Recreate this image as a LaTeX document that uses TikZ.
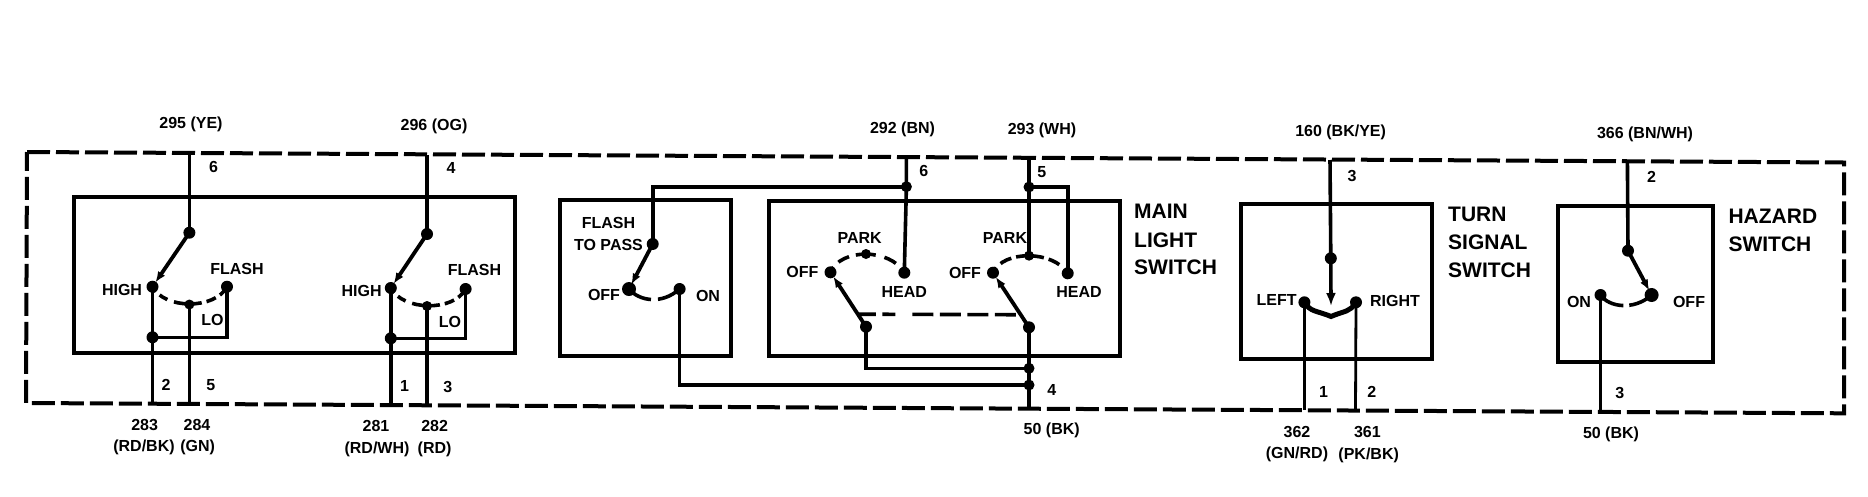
\documentclass[tikz,border=0pt]{standalone}
\usepackage{fontspec}
\setmainfont{Liberation Sans}
\usetikzlibrary{arrows.meta}
\tikzset{
  dot/.style={circle,fill=black,inner sep=0pt,minimum size=12pt},
  wire/.style={line width=3.6pt,line cap=butt,line join=miter},
  thinwire/.style={line width=2.8pt},
  boxline/.style={line width=4pt,line join=miter},
  frame/.style={line width=4pt,dash pattern=on 23pt off 6pt},
  arm/.style={line width=3.8pt,-{Latex[length=11pt,width=8.5pt]},shorten >=5pt},
  sweep/.style={line width=3.6pt},
  lab/.style={inner sep=0pt,font=\bfseries\fontsize{16}{18}\selectfont},
  big/.style={inner sep=0pt,anchor=west,font=\bfseries\fontsize{21}{24}\selectfont},
}
\begin{document}
\begin{tikzpicture}[x=1pt,y=-1pt]
\useasboundingbox (0,0) rectangle (1868,496);
% frame
\coordinate (fTL) at (27,152);
\coordinate (fTR) at (1844,162.5);
\coordinate (fBR) at (1844,413.3);
\coordinate (fBL) at (26,403);
\draw[frame] (fTL) -- (fTR) -- (fBR) -- (fBL) -- cycle;
% boxes
\node[draw,boxline,inner sep=0pt,minimum width=441pt,minimum height=155.5pt] (boxDim) at (294.5,275) {};
\node[draw,boxline,inner sep=0pt,minimum width=171pt,minimum height=156pt] (boxFlash) at (645,278) {};
\node[draw,boxline,inner sep=0pt,minimum width=351.5pt,minimum height=155.5pt] (boxMain) at (944.3,278.3) {};
\node[draw,boxline,inner sep=0pt,minimum width=190.7pt,minimum height=155.3pt] (boxTurn) at (1336.7,281.7) {};
\node[draw,boxline,inner sep=0pt,minimum width=154.6pt,minimum height=155.7pt] (boxHaz) at (1635.3,283.8) {};
% dimmer switch 1
\coordinate (t1) at (189.4,153);
\coordinate (b283) at (152.5,403.5);
\coordinate (b284) at (189.4,403.8);
\node[dot] (p1) at (189.4,232.7) {};
\node[dot] (hi1) at (152.5,286.7) {};
\node[dot] (fl1) at (227,286.7) {};
\node[dot,minimum size=10pt] (lo1) at (189.4,304.5) {};
\node[dot] (j1) at (152.5,337.3) {};
\draw[wire] (t1) -- (p1.center);
\draw[arm] (p1.center) -- (hi1.center);
\draw[wire] (hi1.center) -- (b283);
\draw[wire] (lo1.center) -- (b284);
\draw[wire] (j1.center) -| (fl1.center);
\draw[sweep,dash pattern=on 6pt off 5pt on 9pt off 7pt on 28pt off 5pt on 10pt off 5pt on 8pt off 80pt] (hi1.center) .. controls +(12,23) and +(-12,23) .. (fl1.center);
% dimmer switch 2
\coordinate (t2) at (427,155);
\coordinate (b281) at (390.8,405);
\coordinate (b282) at (427,405.2);
\node[dot] (p2) at (427,234) {};
\node[dot] (hi2) at (390.8,288) {};
\node[dot] (fl2) at (465.6,289) {};
\node[dot,minimum size=10pt] (lo2) at (427,306) {};
\node[dot] (j2) at (390.8,338.3) {};
\draw[wire] (t2) -- (p2.center);
\draw[arm] (p2.center) -- (hi2.center);
\draw[wire] (hi2.center) -- (b281);
\draw[wire] (lo2.center) -- (b282);
\draw[wire] (j2.center) -| (fl2.center);
\draw[sweep,dash pattern=on 6pt off 5pt on 9pt off 7pt on 28pt off 5pt on 10pt off 5pt on 8pt off 80pt] (hi2.center) .. controls +(12,23) and +(-12,23) .. (fl2.center);
% flash to pass
\node[dot] (ftp) at (652.7,244) {};
\node[dot,minimum size=14pt] (foff) at (629,289) {};
\node[dot] (fon) at (679.6,289) {};
\draw[arm] (ftp.center) -- (foff.center);
\draw[sweep,dash pattern=on 25pt off 7pt on 40pt] (foff.center) .. controls +(10,12) and +(-18,16) .. (fon.center);
% main light switch
\coordinate (t292) at (906.4,158);
\coordinate (t293) at (1029,159);
\coordinate (b50) at (1029,409.3);
\node[dot,minimum size=11pt] (j292) at (906.4,186.7) {};
\node[dot,minimum size=11pt] (j293) at (1029,187) {};
\node[dot] (head1) at (904.3,272.7) {};
\node[dot] (off1) at (830.5,272.3) {};
\node[dot,minimum size=10pt] (park1) at (866,254) {};
\node[dot] (low1) at (866,326.7) {};
\node[dot] (head2) at (1067.7,273.3) {};
\node[dot] (off2) at (993,272.7) {};
\node[dot,minimum size=10pt] (park2) at (1029,255.7) {};
\node[dot] (low2) at (1029,327.3) {};
\node[dot,minimum size=11pt] (j3) at (1029,368.3) {};
\node[dot,minimum size=11pt] (j4) at (1029,385) {};
\draw[wire] (t292) -- (j292.center) -- (head1.center);
\draw[wire] (j292.center) -| (ftp.center);
\draw[wire] (t293) -- (j293.center) -- (park2.center);
\draw[wire] (j293.center) -| (head2.center);
\draw[wire] (low2.center) -- (b50);
\draw[wire] (low1.center) |- (j3.center);
\draw[wire] (fon.center) |- (j4.center);
\draw[arm] (low1.center) -- (off1.center);
\draw[arm] (low2.center) -- (off2.center);
\path (off1.center) -- coordinate[pos=.77] (mid1) (low1.center);
\path (off2.center) -- coordinate[pos=.77] (mid2) (low2.center);
\draw[sweep,dash pattern=on 18pt off 6.5pt on 13pt off 17pt on 21pt off 6.5pt on 21pt off 6.5pt on 21pt off 6.5pt on 21pt off 6.5pt] (mid1) -- (mid2);
\draw[sweep,dash pattern=on 6pt off 7pt on 12pt off 7pt on 20pt off 9pt on 13pt off 8pt on 8pt off 60pt] (off1.center) .. controls +(10,-24.5) and +(-14,-24.5) .. (head1.center);
\draw[sweep,dash pattern=on 6pt off 6pt on 12pt off 5pt on 28pt off 5pt on 12pt off 8pt on 8pt off 60pt] (off2.center) .. controls +(10,-23) and +(-14,-23) .. (head2.center);
% turn signal
\coordinate (t160) at (1330,160);
\coordinate (b362) at (1304.4,409.5);
\coordinate (b361) at (1355.5,410);
\node[dot] (tp) at (1330.8,258.3) {};
\node[dot] (tl) at (1304.4,302.3) {};
\node[dot] (tr) at (1356,302.3) {};
\coordinate (tj) at (1331,316.5);
\draw[wire] (t160) -- (tp.center);
\draw[line width=3.6pt,-{Latex[length=13pt,width=10pt]}] (tp.center) -- (1331,306);
\draw[line width=5pt] (tl.center) .. controls +(6,10) and +(-14,-6) .. (tj) .. controls +(14,-6) and +(-6,10) .. (tr.center);
\draw[wire] (tl.center) -- (b362);
\draw[thinwire] (tr.center) -- (b361);
% hazard
\coordinate (t366) at (1627.4,161.5);
\coordinate (b50b) at (1600.5,412.5);
\node[dot] (hp) at (1628,250.7) {};
\node[dot] (hon) at (1600.5,295) {};
\node[dot,minimum size=14pt] (hoff) at (1651.6,295) {};
\draw[wire] (t366) -- (hp.center);
\draw[arm] (hp.center) -- (hoff.center);
\draw[wire] (hon.center) -- (b50b);
\draw[sweep,dash pattern=on 26pt off 6pt on 40pt] (hon.center) .. controls +(8,12) and +(-18,16) .. (hoff.center);
% wire labels
\node[lab] (l295) at (191,124.3) {295 (YE)};
\node[lab] (l296) at (434,126) {296 (OG)};
\node[lab] (l292) at (902.5,129) {292 (BN)};
\node[lab] (l293) at (1042,130) {293 (WH)};
\node[lab] (l160) at (1340.6,132.3) {160 (BK/YE)};
\node[lab] (l366) at (1645,134.3) {366 (BN/WH)};
\node[lab] (n6a) at (213.5,167.3) {6};
\node[lab] (n4a) at (451,168.3) {4};
\node[lab] (n6b) at (923.8,171) {6};
\node[lab] (n5b) at (1041.7,172) {5};
\node[lab] (n3c) at (1352,175.7) {3};
\node[lab] (n2d) at (1651.6,177.3) {2};
\node[lab] (n2a) at (166,385) {2};
\node[lab] (n5a) at (210.7,385.3) {5};
\node[lab] (n1a) at (404.6,386) {1};
\node[lab] (n3a) at (447.7,386.7) {3};
\node[lab] (n4b) at (1051.7,390) {4};
\node[lab] (n1c) at (1323.6,391.7) {1};
\node[lab] (n2c) at (1371.7,391.7) {2};
\node[lab] (n3d) at (1619.7,393.3) {3};
\node[lab] (l283) at (144.6,425) {283};
\node[lab] (l283c) at (144,447.7) {(RD/BK)};
\node[lab] (l284) at (197,425) {284};
\node[lab] (l284c) at (197.7,447.7) {(GN)};
\node[lab] (l281) at (376,426) {281};
\node[lab] (l281c) at (377,449.3) {(RD/WH)};
\node[lab] (l282) at (434.6,426) {282};
\node[lab] (l282c) at (434.6,449.3) {(RD)};
\node[lab] (l50) at (1051.7,430) {50 (BK)};
\node[lab] (l362) at (1297,431.7) {362};
\node[lab] (l362c) at (1297,454.3) {(GN/RD)};
\node[lab] (l361) at (1367.4,431.7) {361};
\node[lab] (l361c) at (1368.7,455) {(PK/BK)};
\node[lab] (l50b) at (1611,434) {50 (BK)};
% switch labels
\node[lab] (tHi1) at (122,290) {HIGH};
\node[lab] (tFl1) at (237,269) {FLASH};
\node[lab] (tLo1) at (212.5,320) {LO};
\node[lab] (tHi2) at (361.6,291) {HIGH};
\node[lab] (tFl2) at (474.5,270) {FLASH};
\node[lab] (tLo2) at (450,321.7) {LO};
\node[lab] (tF) at (608.5,223.3) {FLASH};
\node[lab] (tP) at (608.5,245) {TO PASS};
\node[lab] (tOff) at (604,295) {OFF};
\node[lab] (tOn) at (708,296) {ON};
\node[lab] (tPk1) at (859.6,238.3) {PARK};
\node[lab] (tOf1) at (802.4,272.3) {OFF};
\node[lab] (tHd1) at (904.3,291.7) {HEAD};
\node[lab] (tPk2) at (1005,238.3) {PARK};
\node[lab] (tOf2) at (965,273.3) {OFF};
\node[lab] (tHd2) at (1079,292) {HEAD};
\node[lab] (tL) at (1276.7,300) {LEFT};
\node[lab] (tR) at (1395,300.7) {RIGHT};
\node[lab] (tHon) at (1579,301.7) {ON};
\node[lab] (tHoff) at (1689,302.3) {OFF};
% titles
\node[big] (m1) at (1134,211.7) {MAIN};
\node[big] (m2) at (1134,240) {LIGHT};
\node[big] (m3) at (1134,267.3) {SWITCH};
\node[big] (s1) at (1448,214) {TURN};
\node[big] (s2) at (1448,242.3) {SIGNAL};
\node[big] (s3) at (1448,270) {SWITCH};
\node[big] (h1) at (1728.3,216.7) {HAZARD};
\node[big] (h2) at (1728.3,244.3) {SWITCH};
\end{tikzpicture}
\end{document}
